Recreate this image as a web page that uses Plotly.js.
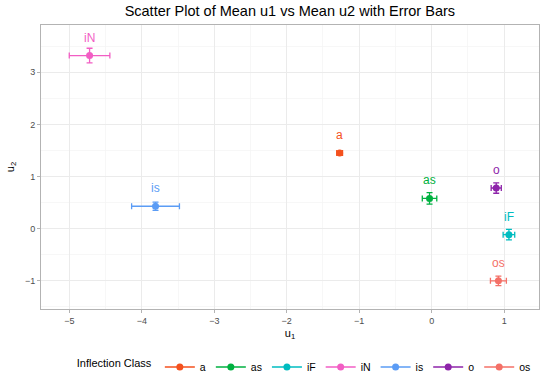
<!DOCTYPE html>
<html>
<head>
<meta charset="utf-8">
<script src="https://cdn.plot.ly/plotly-3.0.1.min.js"></script>
<style>html,body{margin:0;padding:0;background:#fff;}#chart{width:550px;height:378px;}</style>
</head>
<body>
<div id="chart"></div>
<script>
const classes = ["a", "as", "iF", "iN", "is", "o", "os"];
const meanU1 = [-1.27, -0.03, 1.065, -4.72, -3.81, 0.89, 0.92];
const meanU2 = [1.45, 0.58, -0.115, 3.32, 0.43, 0.78, -1.0];
const errU1 = [0.04, 0.1, 0.08, 0.28, 0.33, 0.07, 0.11];
const errU2 = [0.03, 0.11, 0.1, 0.14, 0.08, 0.1, 0.09];
const colors = ["#F4511E", "#00B140", "#00BCC0", "#F25EC4", "#5B9CF5", "#8E24AA", "#F47067"];

const traces = classes.map((c, i) => ({
  type: "scatter",
  mode: "lines+markers",
  name: c,
  x: [meanU1[i]],
  y: [meanU2[i]],
  marker: {color: colors[i], size: 7},
  line: {color: colors[i], width: 1.5},
  error_x: {type: "data", array: [errU1[i]], color: colors[i], thickness: 1.3, width: 3},
  error_y: {type: "data", array: [errU2[i]], color: colors[i], thickness: 1.3, width: 3},
  hoverinfo: "x+y+name"
}));

const annotations = classes.map((c, i) => ({
  x: meanU1[i], y: meanU2[i], xref: "x", yref: "y",
  text: c, showarrow: false, yshift: 18,
  font: {color: colors[i], size: 12, family: "Liberation Sans, Arial, sans-serif"}
}));

const layout = {
  width: 550, height: 378,
  margin: {l: 41, r: 11, t: 25, b: 69},
  paper_bgcolor: "#fff", plot_bgcolor: "#fff",
  font: {family: "Liberation Sans, Arial, sans-serif", color: "#000"},
  title: {text: "Scatter Plot of Mean u1 vs Mean u2 with Error Bars", x: 0.527, xanchor: "center", y: 0.97, yanchor: "middle", font: {size: 14.5, color: "#000"}},
  xaxis: {
    range: [-5.39, 1.48], tickvals: [-5, -4, -3, -2, -1, 0, 1], ticktext: ["\u22125", "\u22124", "\u22123", "\u22122", "\u22121", "0", "1"],
    showgrid: true, gridcolor: "#EBEBEB", gridwidth: 1,
    minor: {tickvals: [-5.5, -4.5, -3.5, -2.5, -1.5, -0.5, 0.5, 1.5], showgrid: true, gridcolor: "#F3F3F3", gridwidth: 0.7},
    zeroline: false, showline: true, mirror: true, linecolor: "#B3B3B3", linewidth: 1,
    ticks: "outside", ticklen: 3, tickcolor: "#B3B3B3",
    tickfont: {size: 9, color: "#4D4D4D"},
    title: {text: "u<sub>1</sub>", font: {size: 11, color: "#000"}, standoff: 4}
  },
  yaxis: {
    range: [-1.54, 3.906], tickvals: [-1, 0, 1, 2, 3], ticktext: ["\u22121", "0", "1", "2", "3"],
    showgrid: true, gridcolor: "#EBEBEB", gridwidth: 1,
    minor: {tickvals: [-1.5, -0.5, 0.5, 1.5, 2.5, 3.5], showgrid: true, gridcolor: "#F3F3F3", gridwidth: 0.7},
    zeroline: false, showline: true, mirror: true, linecolor: "#B3B3B3", linewidth: 1,
    ticks: "outside", ticklen: 3, tickcolor: "#B3B3B3",
    tickfont: {size: 9, color: "#4D4D4D"},
    title: {text: "u<sub>2</sub>", font: {size: 11, color: "#000"}, standoff: 8}
  },
  showlegend: true,
  legend: {
    orientation: "h", xref: "container", yref: "container",
    x: 0.555, xanchor: "center", y: 0.029, yanchor: "middle",
    title: {text: "Inflection Class", side: "left", font: {size: 11}},
    font: {size: 10.5}, itemwidth: 30, tracegroupgap: 0
  },
  annotations: annotations
};

Plotly.newPlot("chart", traces, layout, {displayModeBar: false, staticPlot: true});
</script>
</body>
</html>
